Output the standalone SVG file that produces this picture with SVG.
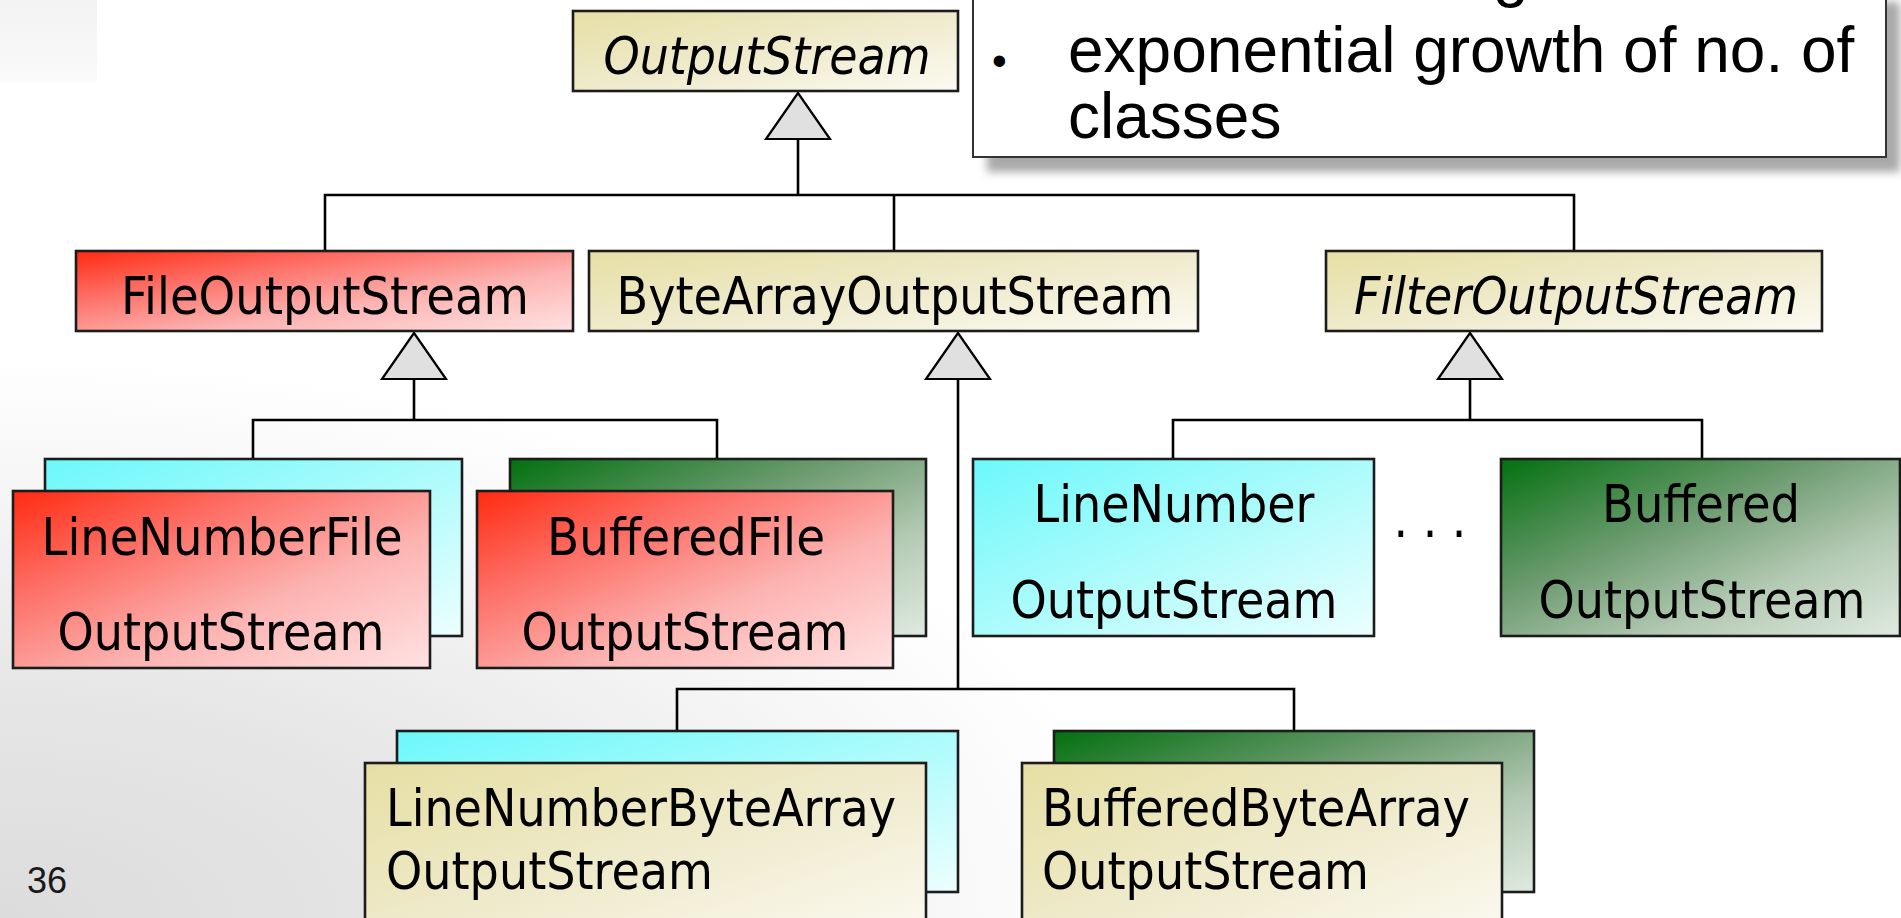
<svg xmlns="http://www.w3.org/2000/svg" width="1901" height="918" viewBox="0 0 1901 918">
  <style>
    .box { stroke: #1c1c1c; stroke-width: 2.6; }
    .lbl { font-family: "DejaVu Sans Condensed", "DejaVu Sans", sans-serif; font-size: 51px; fill: #000; }
    .abs { font-style: italic; }
    .mid { text-anchor: middle; }
    .wire { fill: none; stroke: #000; stroke-width: 2.6; }
    .tri { fill: #e0e0e0; stroke: #000; stroke-width: 2.2; stroke-linejoin: miter; }
    .note { font-family: "Liberation Sans", Arial, sans-serif; font-size: 64px; fill: #000; }
  </style>
  <defs>
    <radialGradient id="bg" gradientUnits="userSpaceOnUse" cx="0" cy="0" r="1" gradientTransform="translate(0 918) scale(1150 560)">
      <stop offset="0" stop-color="#dcdcdc"/>
      <stop offset="0.4" stop-color="#e6e6e6"/>
      <stop offset="0.75" stop-color="#f5f5f5"/>
      <stop offset="1" stop-color="#ffffff"/>
    </radialGradient>
    <linearGradient id="corner" x1="0" y1="0" x2="0" y2="1">
      <stop offset="0" stop-color="#f2f2f2"/>
      <stop offset="1" stop-color="#fafafa"/>
    </linearGradient>
    <linearGradient id="beige" x1="0" y1="0" x2="1" y2="1">
      <stop offset="0" stop-color="#e6dfa4"/>
      <stop offset="0.5" stop-color="#efeacb"/>
      <stop offset="1" stop-color="#fbfaf2"/>
    </linearGradient>
    <linearGradient id="red" x1="0" y1="0" x2="1" y2="1">
      <stop offset="0" stop-color="#ff2a10"/>
      <stop offset="0.3" stop-color="#fd6f66"/>
      <stop offset="0.62" stop-color="#fcb3b1"/>
      <stop offset="1" stop-color="#ffe2e2"/>
    </linearGradient>
    <linearGradient id="cyan" x1="0" y1="0" x2="1" y2="1">
      <stop offset="0" stop-color="#6cf8fb"/>
      <stop offset="0.5" stop-color="#acfbfb"/>
      <stop offset="1" stop-color="#ecfefe"/>
    </linearGradient>
    <linearGradient id="green" x1="0" y1="0" x2="1" y2="1">
      <stop offset="0" stop-color="#037010"/>
      <stop offset="0.4" stop-color="#6e9c71"/>
      <stop offset="0.7" stop-color="#b4cab4"/>
      <stop offset="1" stop-color="#dfeadf"/>
    </linearGradient>
    <filter id="soft" x="-5%" y="-20%" width="110%" height="140%">
      <feGaussianBlur stdDeviation="4"/>
    </filter>
  </defs>

  <!-- slide background -->
  <rect x="0" y="0" width="1901" height="918" fill="url(#bg)"/>
  <rect x="0" y="0" width="97" height="82" fill="url(#corner)"/>

  <!-- callout box with bullet text -->
  <g id="note">
    <rect x="987" y="2" width="913" height="170" fill="#8c8c8c" opacity="0.75" filter="url(#soft)"/>
    <rect x="973" y="-12" width="913" height="169" fill="#ffffff" stroke="#333" stroke-width="2"/>
    <text class="note" x="1493" y="-5">g</text>
    <text x="992" y="75" font-family="Liberation Sans, Arial, sans-serif" font-size="42" fill="#000">•</text>
    <text class="note" x="1068" y="72">exponential growth of no. of</text>
    <text class="note" x="1068" y="138">classes</text>
  </g>

  <!-- inheritance connectors -->
  <g id="connectors">
    <!-- OutputStream subtree -->
    <polyline class="wire" points="798,139 798,195"/>
    <polyline class="wire" points="325,251 325,195 1574,195 1574,251"/>
    <polyline class="wire" points="894,195 894,251"/>
    <polygon class="tri" points="798,93 766,139 830,139"/>
    <!-- FileOutputStream subtree -->
    <polyline class="wire" points="414,379 414,420"/>
    <polyline class="wire" points="253,459 253,420 717,420 717,459"/>
    <polygon class="tri" points="414,333 382,379 446,379"/>
    <!-- ByteArrayOutputStream subtree -->
    <polyline class="wire" points="958,379 958,689"/>
    <polyline class="wire" points="677,731 677,689 1294,689 1294,731"/>
    <polygon class="tri" points="958,333 926,379 990,379"/>
    <!-- FilterOutputStream subtree -->
    <polyline class="wire" points="1470,379 1470,420"/>
    <polyline class="wire" points="1173,459 1173,420 1702,420 1702,459"/>
    <polygon class="tri" points="1470,333 1438,379 1502,379"/>
  </g>

  <g id="OutputStream">
    <rect class="box" x="573" y="11" width="385" height="80" fill="url(#beige)"/>
    <text class="lbl abs mid" x="767" y="74" textLength="327" lengthAdjust="spacingAndGlyphs">OutputStream</text>
  </g>

  <g id="FileOutputStream">
    <rect class="box" x="76" y="251" width="497" height="80" fill="url(#red)"/>
    <text class="lbl mid" x="325" y="314" textLength="408" lengthAdjust="spacingAndGlyphs">FileOutputStream</text>
  </g>

  <g id="ByteArrayOutputStream">
    <rect class="box" x="589" y="251" width="609" height="80" fill="url(#beige)"/>
    <text class="lbl mid" x="895" y="314" textLength="557" lengthAdjust="spacingAndGlyphs">ByteArrayOutputStream</text>
  </g>

  <g id="FilterOutputStream">
    <rect class="box" x="1326" y="251" width="496" height="80" fill="url(#beige)"/>
    <text class="lbl abs mid" x="1576" y="314" textLength="444" lengthAdjust="spacingAndGlyphs">FilterOutputStream</text>
  </g>

  <g id="LineNumberFileOutputStream">
    <rect class="box" x="45" y="459" width="417" height="177" fill="url(#cyan)"/>
    <rect class="box" x="13" y="491" width="417" height="177" fill="url(#red)"/>
    <text class="lbl mid" x="222" y="555" textLength="361" lengthAdjust="spacingAndGlyphs">LineNumberFile</text>
    <text class="lbl mid" x="221" y="650" textLength="327" lengthAdjust="spacingAndGlyphs">OutputStream</text>
  </g>

  <g id="BufferedFileOutputStream">
    <rect class="box" x="510" y="459" width="416" height="177" fill="url(#green)"/>
    <rect class="box" x="477" y="491" width="416" height="177" fill="url(#red)"/>
    <text class="lbl mid" x="686" y="555" textLength="278" lengthAdjust="spacingAndGlyphs">BufferedFile</text>
    <text class="lbl mid" x="685" y="650" textLength="327" lengthAdjust="spacingAndGlyphs">OutputStream</text>
  </g>

  <g id="LineNumberOutputStream">
    <rect class="box" x="973" y="459" width="401" height="177" fill="url(#cyan)"/>
    <text class="lbl mid" x="1174" y="522" textLength="281" lengthAdjust="spacingAndGlyphs">LineNumber</text>
    <text class="lbl mid" x="1174" y="618" textLength="327" lengthAdjust="spacingAndGlyphs">OutputStream</text>
  </g>

  <text class="lbl mid" x="1430" y="537">. . .</text>

  <g id="BufferedOutputStream">
    <rect class="box" x="1501" y="459" width="399" height="177" fill="url(#green)"/>
    <text class="lbl mid" x="1701" y="522" textLength="198" lengthAdjust="spacingAndGlyphs">Buffered</text>
    <text class="lbl mid" x="1702" y="618" textLength="327" lengthAdjust="spacingAndGlyphs">OutputStream</text>
  </g>

  <g id="LineNumberByteArrayOutputStream">
    <rect class="box" x="397" y="731" width="561" height="161" fill="url(#cyan)"/>
    <rect class="box" x="365" y="763" width="561" height="180" fill="url(#beige)"/>
    <text class="lbl" x="386" y="826" textLength="510" lengthAdjust="spacingAndGlyphs">LineNumberByteArray</text>
    <text class="lbl" x="386" y="889" textLength="327" lengthAdjust="spacingAndGlyphs">OutputStream</text>
  </g>

  <g id="BufferedByteArrayOutputStream">
    <rect class="box" x="1054" y="731" width="480" height="161" fill="url(#green)"/>
    <rect class="box" x="1022" y="763" width="480" height="180" fill="url(#beige)"/>
    <text class="lbl" x="1042" y="826" textLength="428" lengthAdjust="spacingAndGlyphs">BufferedByteArray</text>
    <text class="lbl" x="1042" y="889" textLength="327" lengthAdjust="spacingAndGlyphs">OutputStream</text>
  </g>

  <!-- slide number -->
  <text x="27" y="893" font-family="Liberation Sans, Arial, sans-serif" font-size="36" fill="#1a1a1a">36</text>
</svg>
